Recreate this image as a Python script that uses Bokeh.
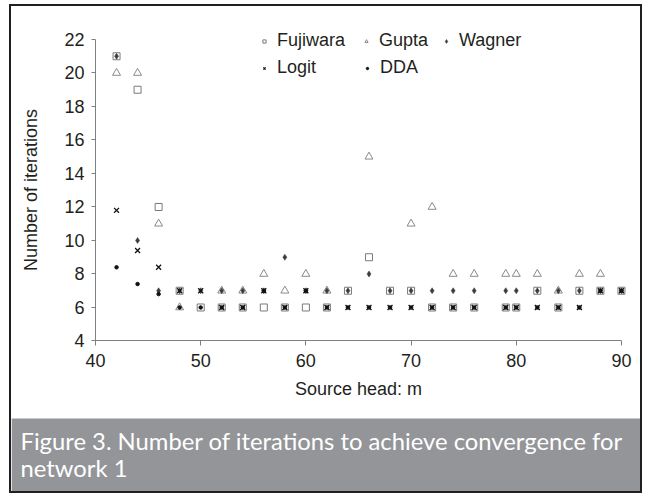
from bokeh.plotting import figure
from bokeh.models import (ColumnDataSource, Range1d, FixedTicker, Legend, LegendItem,
                          Label, BoxAnnotation)
from bokeh.embed import file_html
from bokeh.resources import INLINE

NaN = float("nan")

# ---- data ----
source_head = [42, 44, 46, 48, 50, 52, 54, 56, 58, 60, 62, 64, 66, 68, 70, 72, 74, 76, 79, 80, 82, 84, 86, 88, 90]
fujiwara = [21, 19, 12, 7, 6, 6, 6, 6, 6, 6, 6, 7, 9, 7, 7, 6, 6, 6, 6, 6, 7, 6, 7, 7, 7]
gupta = [20, 20, 11, 6, NaN, 7, 7, 8, 7, 8, 7, NaN, 15, NaN, 11, 12, 8, 8, 8, 8, 8, 7, 8, 8, NaN]
wagner = [21, 10, 7, 7, 7, 7, 7, 7, 9, 7, 7, 7, 8, 7, 7, 7, 7, 7, 7, 7, 7, 7, 7, 7, 7]
logit = [11.8, 9.4, 8.4, 7, 7, 6, 6, 7, 6, 7, 6, 6, 6, 6, 6, 6, 6, 6, 6, 6, 6, 6, 6, 7, 7]
dda = [8.4, 7.4, 6.8, 6, 6, 6, 6, 7, 6, 7, 6, 6, 6, 6, 6, 6, 6, 6, 6, 6, 6, 6, 6, 7, 7]

x_ticks = [40, 50, 60, 70, 80, 90]
y_ticks = [4, 6, 8, 10, 12, 14, 16, 18, 20, 22]
x_bounds = (40, 90)
y_bounds = (4, 22)

x_label = "Source head: m"
y_label = "Number of iterations"
caption_1 = "Figure 3. Number of iterations to achieve convergence for"
caption_2 = "network 1"

FONT = "Liberation Sans"
W, H = 633, 489
CAP_H = 77

src = ColumnDataSource(data=dict(x=source_head, fujiwara=fujiwara, gupta=gupta,
                                 wagner=wagner, logit=logit, dda=dda))

# frame spans the whole canvas; axes are pinned at x=40 and y=4
p = figure(width=W, height=H, x_range=Range1d(32.015, 92.19), y_range=Range1d(-5.224, 23.97),
           output_backend="svg", toolbar_location=None, min_border=0)
p.styles = {"border": "2px solid #231f20", "margin-left": "9px", "margin-top": "4px"}
p.outline_line_color = None
p.xgrid.grid_line_color = None
p.ygrid.grid_line_color = None
p.background_fill_color = "white"
p.border_fill_color = "white"

for ax in (p.xaxis[0], p.yaxis[0]):
    ax.axis_line_color = "#808080"
    ax.major_tick_line_color = "#808080"
    ax.minor_tick_line_color = None
    ax.major_tick_in = 0
    ax.major_label_text_font = FONT
    ax.major_label_text_font_size = "18px"
    ax.major_label_text_color = "#231f20"
    ax.axis_label_text_font = FONT
    ax.axis_label_text_font_size = "18px"
    ax.axis_label_text_font_style = "normal"
    ax.axis_label_text_color = "#231f20"

p.xaxis.ticker = FixedTicker(ticks=x_ticks)
p.xaxis.bounds = x_bounds
p.xaxis.fixed_location = y_bounds[0]
p.xaxis.major_tick_out = 5
p.xaxis.major_label_standoff = 8
p.xaxis.axis_label = x_label
p.xaxis.axis_label_standoff = 9

p.yaxis.ticker = FixedTicker(ticks=y_ticks)
p.yaxis.bounds = y_bounds
p.yaxis.fixed_location = x_bounds[0]
p.yaxis.major_tick_out = 4
p.yaxis.major_label_standoff = 7
p.yaxis.axis_label = y_label
p.yaxis.axis_label_standoff = 20

r_f = p.scatter("x", "fujiwara", source=src, marker="square", size=7,
                fill_color=None, line_color="#7a7a7a", line_width=1)
r_g = p.scatter("x", "gupta", source=src, marker="triangle", size=8,
                fill_color=None, line_color="#8a8a8a", line_width=1)
r_w = p.scatter("x", "wagner", source=src, marker="diamond", size=6,
                fill_color="#3c3c3c", line_color="#3c3c3c", line_width=0.5)
r_l = p.scatter("x", "logit", source=src, marker="x", size=7,
                line_color="#111111", line_width=1.3)
r_d = p.scatter("x", "dda", source=src, marker="circle", size=3.5,
                fill_color="#111111", line_color="#111111")


def make_legend(items, vx, vy, gw=8, standoff=9):
    lg = Legend(items=items, location=(vx, vy), orientation="vertical",
                glyph_width=gw, glyph_height=gw, label_standoff=standoff, spacing=6,
                padding=0, margin=0, label_height=20,
                label_text_font=FONT, label_text_font_size="18px",
                label_text_color="#231f20",
                border_line_color=None, background_fill_alpha=0)
    p.add_layout(lg, "center")


make_legend([LegendItem(label="Fujiwara", renderers=[r_f]),
             LegendItem(label="Logit", renderers=[r_l])], 249, 417)
make_legend([LegendItem(label="Gupta", renderers=[r_g])], 351, 444)
make_legend([LegendItem(label="DDA", renderers=[r_d])], 353, 417, gw=6, standoff=10)
make_legend([LegendItem(label="Wagner", renderers=[r_w])], 430, 444, gw=10, standoff=8)

# caption panel
p.add_layout(BoxAnnotation(top=CAP_H, top_units="screen",
                           fill_color="#939598", fill_alpha=1, line_color=None))
for txt, yy in ((caption_1, 55), (caption_2, 28)):
    p.add_layout(Label(x=9, y=yy, x_units="screen", y_units="screen", text=txt,
                       text_color="white", text_font="Lato", text_font_size="23.8px",
                       text_baseline="middle"))

open("out.html", "w").write(file_html(p, INLINE))
